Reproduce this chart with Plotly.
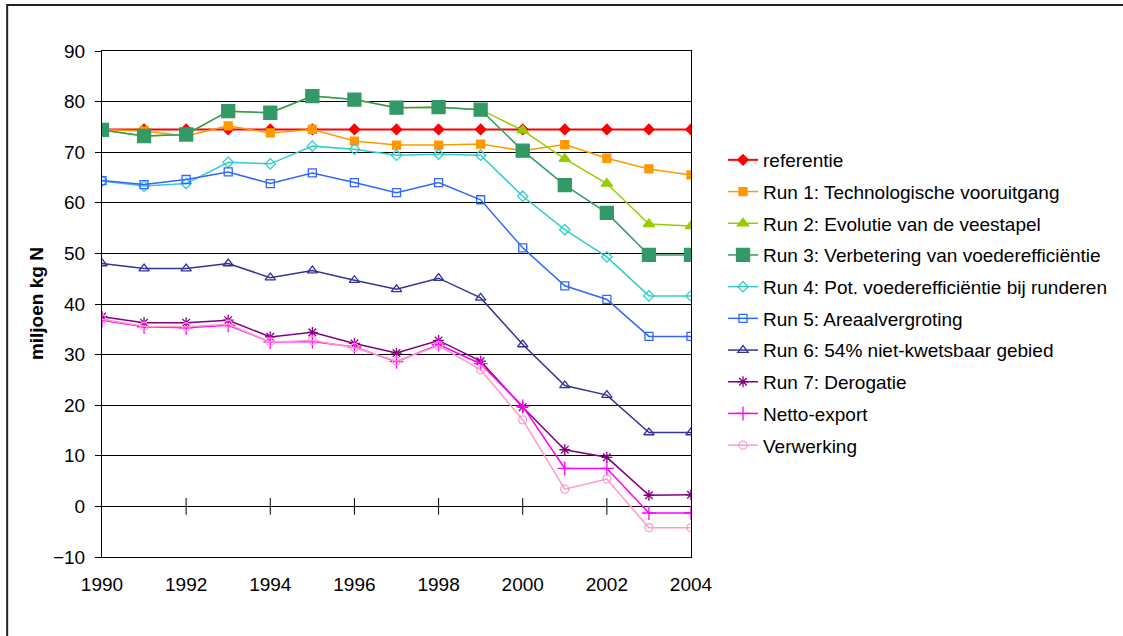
import plotly.graph_objects as go

# Years on the horizontal axis
years = list(range(1990, 2005))

# Nitrogen surplus per scenario (miljoen kg N)
referentie = [74.5] * 15
run1_technologie = [74.5, 74.2, 73.2, 75.2, 73.8, 74.5, 72.2, 71.4, 71.4, 71.6, 70.3, 71.5, 68.8, 66.7, 65.5]
run2_veestapel = [74.4, 73.2, 73.5, 78.1, 77.8, 81.1, 80.4, 78.8, 78.9, 78.4, 74.3, 68.7, 63.8, 55.8, 55.4]
run3_voederefficientie = [74.4, 73.2, 73.5, 78.1, 77.8, 81.1, 80.4, 78.8, 78.9, 78.4, 70.3, 63.5, 58.0, 49.7, 49.7]
run4_runderen = [64.3, 63.3, 63.8, 68.0, 67.7, 71.2, 70.6, 69.4, 69.6, 69.4, 61.3, 54.7, 49.3, 41.6, 41.6]
run5_areaal = [64.4, 63.6, 64.6, 66.1, 63.8, 65.9, 64.0, 62.0, 64.0, 60.6, 51.1, 43.6, 40.9, 33.6, 33.6]
run6_niet_kwetsbaar = [48.0, 47.0, 47.0, 48.0, 45.2, 46.6, 44.7, 42.9, 45.1, 41.2, 32.0, 23.9, 22.0, 14.6, 14.6]
run7_derogatie = [37.5, 36.3, 36.3, 36.8, 33.5, 34.4, 32.2, 30.3, 32.8, 28.7, 19.6, 11.2, 9.7, 2.2, 2.3]
netto_export = [36.8, 35.5, 35.3, 35.8, 32.5, 32.6, 31.5, 28.6, 32.0, 28.2, 19.8, 7.5, 7.5, -1.3, -1.3]
verwerking = [37.0, 35.6, 35.5, 36.0, 32.5, 32.8, 31.4, 28.7, 31.8, 27.0, 17.1, 3.4, 5.4, -4.2, -4.2]

# Axis ticks
x_tick_years = [1990, 1992, 1994, 1996, 1998, 2000, 2002, 2004]
x_cross_ticks = [1992, 1994, 1996, 1998, 2000, 2002]
y_ticks = list(range(-10, 100, 10))

FONT = "Liberation Sans, Arial, sans-serif"
FS = 19

series = [
    ("referentie", referentie, "#FF0000", "diamond", 8, 2.0),
    ("Run 1: Technologische vooruitgang", run1_technologie, "#FF9900", "square", 8, 1.5),
    ("Run 2: Evolutie van de veestapel", run2_veestapel, "#99CC00", "triangle-up", 10, 1.5),
    ("Run 3: Verbetering van voederefficiëntie", run3_voederefficientie, "#339966", "square", 13, 1.5),
    ("Run 4: Pot. voederefficiëntie bij runderen", run4_runderen, "#33CCCC", "diamond-open", 8, 1.5),
    ("Run 5: Areaalvergroting", run5_areaal, "#3366FF", "square-open", 8, 1.5),
    ("Run 6: 54% niet-kwetsbaar gebied", run6_niet_kwetsbaar, "#333399", "triangle-up-open", 9, 1.5),
    ("Run 7: Derogatie", run7_derogatie, "#800080", "asterisk-open", 9, 1.5),
    ("Netto-export", netto_export, "#FF00FF", "cross-thin-open", 10, 1.5),
    ("Verwerking", verwerking, "#FF99CC", "circle-open", 8, 1.5),
]

fig = go.Figure()

# Category-axis tick marks crossing the zero line
fig.add_trace(go.Scatter(
    x=x_cross_ticks, y=[0] * len(x_cross_ticks), mode="markers",
    marker=dict(symbol="line-ns-open", size=12, color="black", line=dict(width=1, color="black")),
    showlegend=False, hoverinfo="skip",
))

for i, (name, values, color, symbol, size, lw) in enumerate(series):
    fig.add_trace(go.Scatter(
        x=years, y=values, name=name, mode="lines+markers",
        legendgroup=f"g{i}",
        line=dict(color=color, width=lw),
        marker=dict(symbol=symbol, size=size, color=color,
                    line=dict(color=color, width=1.3)),
    ))

L, R, T, B = 102, 431, 51, 79
W, H = 1123, 636
pw, ph = W - L - R, H - T - B


def px_x(px):
    return (px - L) / pw


def px_y(py):
    return (H - B - py) / ph


fig.update_layout(
    width=W, height=H,
    margin=dict(l=L, r=R, t=T, b=B, pad=0),
    paper_bgcolor="white", plot_bgcolor="white",
    font=dict(family=FONT, size=FS, color="black"),
    showlegend=True,
    legend=dict(
        x=px_x(723), y=px_y(141), xanchor="left", yanchor="top",
        font=dict(family=FONT, size=FS, color="black"),
        tracegroupgap=4, bgcolor="rgba(0,0,0,0)",
        itemwidth=30,
    ),
    xaxis=dict(
        range=[1990, 2004], tickvals=x_tick_years, ticktext=[str(y) for y in x_tick_years],
        showgrid=False, zeroline=False, ticks="",
        showline=True, linecolor="black", linewidth=1, mirror=True,
        ticklabelstandoff=10,
        tickfont=dict(family=FONT, size=FS, color="black"),
    ),
    yaxis=dict(
        range=[-10, 90], tickvals=y_ticks,
        showgrid=True, gridcolor="black", gridwidth=1,
        zeroline=False, ticks="outside", ticklen=6, tickcolor="black",
        showline=True, linecolor="black", linewidth=1, mirror=True,
        ticklabelstandoff=6,
        tickfont=dict(family=FONT, size=FS, color="black"),
    ),
    annotations=[dict(
        text="<b>miljoen kg N</b>", textangle=-90,
        xref="paper", yref="paper", x=px_x(36), y=0.5,
        xanchor="center", yanchor="middle", showarrow=False,
        font=dict(family=FONT, size=FS, color="black"),
    )],
    shapes=[dict(
        type="rect", xref="paper", yref="paper",
        x0=px_x(7), y0=px_y(660), x1=px_x(1150), y1=px_y(5),
        line=dict(color="#222222", width=2), fillcolor="rgba(0,0,0,0)", layer="below",
    )],
)

fig.write_html("out.html")
